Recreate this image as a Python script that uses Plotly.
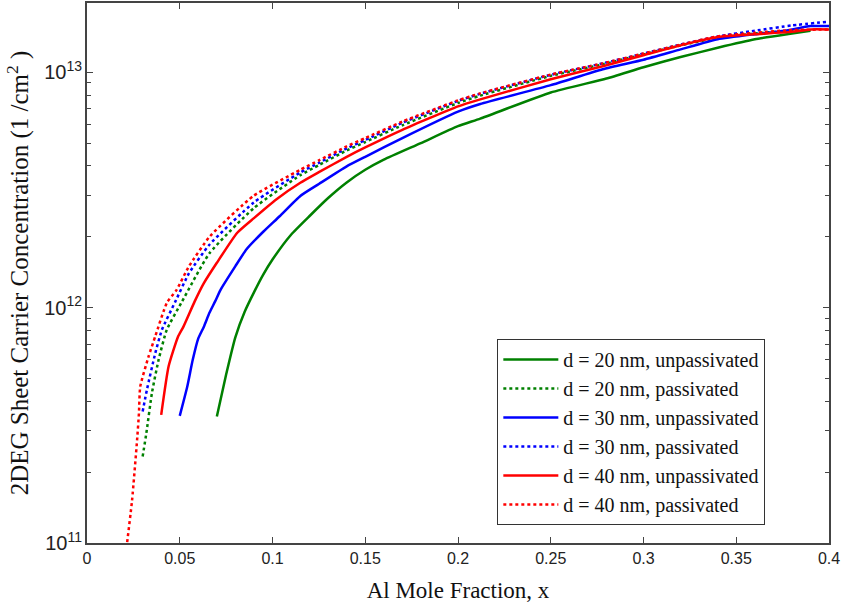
import plotly.graph_objects as go

# Data (x = Al mole fraction, n in units of 1e12 cm^-2)
x_g_unp = [0.070, 0.075, 0.080, 0.085, 0.090, 0.095, 0.100, 0.110, 0.120, 0.130, 0.140, 0.150, 0.160, 0.180, 0.200, 0.212, 0.250, 0.280, 0.300, 0.320, 0.340, 0.360, 0.380, 0.390]
n_g_unp = [0.345, 0.52, 0.75, 0.96, 1.16, 1.38, 1.6, 2.04, 2.45, 2.92, 3.4, 3.85, 4.25, 5.0, 5.9, 6.35, 8.2, 9.4, 10.5, 11.6, 12.7, 13.8, 14.6, 15.0]

x_g_pas = [0.030, 0.032, 0.035, 0.0386, 0.043, 0.0512, 0.066, 0.090, 0.115, 0.125, 0.140, 0.150, 0.170, 0.200, 0.212, 0.250, 0.278, 0.300, 0.320, 0.340, 0.360, 0.380, 0.390]
n_g_pas = [0.233, 0.293, 0.434, 0.60, 0.805, 1.06, 1.7, 2.65, 3.65, 4.03, 4.65, 5.05, 5.95, 7.4, 7.95, 9.65, 10.8, 11.9, 13.0, 14.0, 14.6, 15.0, 15.1]

x_b_unp = [0.050, 0.054, 0.057, 0.060, 0.063, 0.066, 0.069, 0.072, 0.080, 0.086, 0.095, 0.104, 0.115, 0.125, 0.140, 0.150, 0.170, 0.200, 0.212, 0.250, 0.278, 0.300, 0.320, 0.340, 0.360, 0.376, 0.390, 0.400]
n_b_unp = [0.347, 0.46, 0.6, 0.74, 0.83, 0.95, 1.06, 1.19, 1.5, 1.77, 2.1, 2.45, 2.98, 3.35, 3.98, 4.37, 5.25, 6.8, 7.33, 8.81, 10.3, 11.3, 12.5, 13.8, 14.5, 15.0, 15.7, 15.7]

x_b_pas = [0.030, 0.0323, 0.0368, 0.0404, 0.0476, 0.055, 0.066, 0.090, 0.115, 0.125, 0.140, 0.150, 0.170, 0.200, 0.212, 0.250, 0.278, 0.300, 0.320, 0.340, 0.360, 0.380, 0.400]
n_b_pas = [0.362, 0.448, 0.64, 0.805, 1.06, 1.4, 1.85, 2.8, 3.75, 4.12, 4.75, 5.15, 6.1, 7.55, 8.1, 9.75, 10.9, 12.0, 13.1, 14.2, 15.0, 15.8, 16.4]

x_r_unp = [0.040, 0.044, 0.049, 0.052, 0.058, 0.063, 0.070, 0.081, 0.090, 0.102, 0.115, 0.125, 0.140, 0.150, 0.170, 0.200, 0.212, 0.250, 0.278, 0.300, 0.320, 0.340, 0.360, 0.378, 0.390, 0.400]
n_r_unp = [0.35, 0.563, 0.75, 0.83, 1.06, 1.27, 1.55, 2.08, 2.4, 2.88, 3.39, 3.76, 4.37, 4.79, 5.69, 7.16, 7.67, 9.33, 10.6, 11.8, 13.0, 14.1, 14.5, 14.8, 15.2, 15.2]

x_r_pas = [0.020, 0.0216, 0.0243, 0.027, 0.028, 0.0287, 0.0332, 0.0368, 0.0431, 0.0483, 0.055, 0.0663, 0.0897, 0.115, 0.125, 0.140, 0.150, 0.170, 0.200, 0.212, 0.250, 0.278, 0.300, 0.320, 0.340, 0.360, 0.380, 0.400]
n_r_pas = [0.08, 0.10, 0.152, 0.274, 0.356, 0.462, 0.62, 0.755, 1.05, 1.19, 1.5, 2.01, 2.98, 3.85, 4.22, 4.84, 5.25, 6.17, 7.59, 8.13, 9.77, 10.9, 12.0, 13.1, 14.2, 14.7, 15.1, 15.2]

labels = ["d = 20 nm, unpassivated", "d = 20 nm, passivated",
          "d = 30 nm, unpassivated", "d = 30 nm, passivated",
          "d = 40 nm, unpassivated", "d = 40 nm, passivated"]

x_ticks = [0, 0.05, 0.1, 0.15, 0.2, 0.25, 0.3, 0.35, 0.4]
x_tick_text = ["0", "0.05", "0.1", "0.15", "0.2", "0.25", "0.3", "0.35", "0.4"]

series = [
    (x_g_unp, n_g_unp, "#008000", "solid"),
    (x_g_pas, n_g_pas, "#008000", "dot"),
    (x_b_unp, n_b_unp, "#0000ff", "solid"),
    (x_b_pas, n_b_pas, "#0000ff", "dot"),
    (x_r_unp, n_r_unp, "#ff0000", "solid"),
    (x_r_pas, n_r_pas, "#ff0000", "dot"),
]

fig = go.Figure()
for (xs, ns, col, dash), lab in zip(series, labels):
    fig.add_trace(go.Scatter(
        x=xs, y=[v * 1e12 for v in ns], mode="lines", name=lab,
        line=dict(color=col, width=2.5, dash=dash, shape="spline", smoothing=0.5)))

axis_common = dict(
    showline=True, linecolor="#444444", linewidth=1.5, mirror="allticks",
    ticks="inside", tickcolor="#444444", ticklen=6, tickwidth=1,
    showgrid=False, zeroline=False, automargin=False,
    tickfont=dict(family="Liberation Sans, Arial", size=16, color="#222222"),
)

fig.update_layout(
    width=843, height=607,
    margin=dict(l=87, r=14, t=3, b=64),
    paper_bgcolor="white", plot_bgcolor="white",
    showlegend=True,
    legend=dict(
        x=0.553, y=0.378, xanchor="left", yanchor="top",
        bgcolor="white", bordercolor="#333333", borderwidth=1,
        font=dict(family="Liberation Serif, Times New Roman", size=20, color="#111111"),
        tracegroupgap=0, itemwidth=55,
    ),
)

fig.update_xaxes(
    range=[0, 0.4], tickvals=x_ticks, ticktext=x_tick_text,
    title=dict(text="Al Mole Fraction, x", standoff=16,
               font=dict(family="Liberation Serif, Times New Roman", size=23, color="#111111")),
    **axis_common)

fig.update_yaxes(
    type="log", range=[11, 13.294], dtick=1, exponentformat="power",
    minor=dict(ticks="inside", ticklen=4, tickcolor="#444444", tickwidth=1, dtick="D1", showgrid=False),
    title=dict(text="2DEG Sheet Carrier Concentration (1 /cm<sup>2</sup> )", standoff=8,
               font=dict(family="Liberation Serif, Times New Roman", size=25, color="#111111")),
    **axis_common)

fig.write_html("out.html", config={"displayModeBar": False},
               post_script="document.body.style.margin='0px';")
